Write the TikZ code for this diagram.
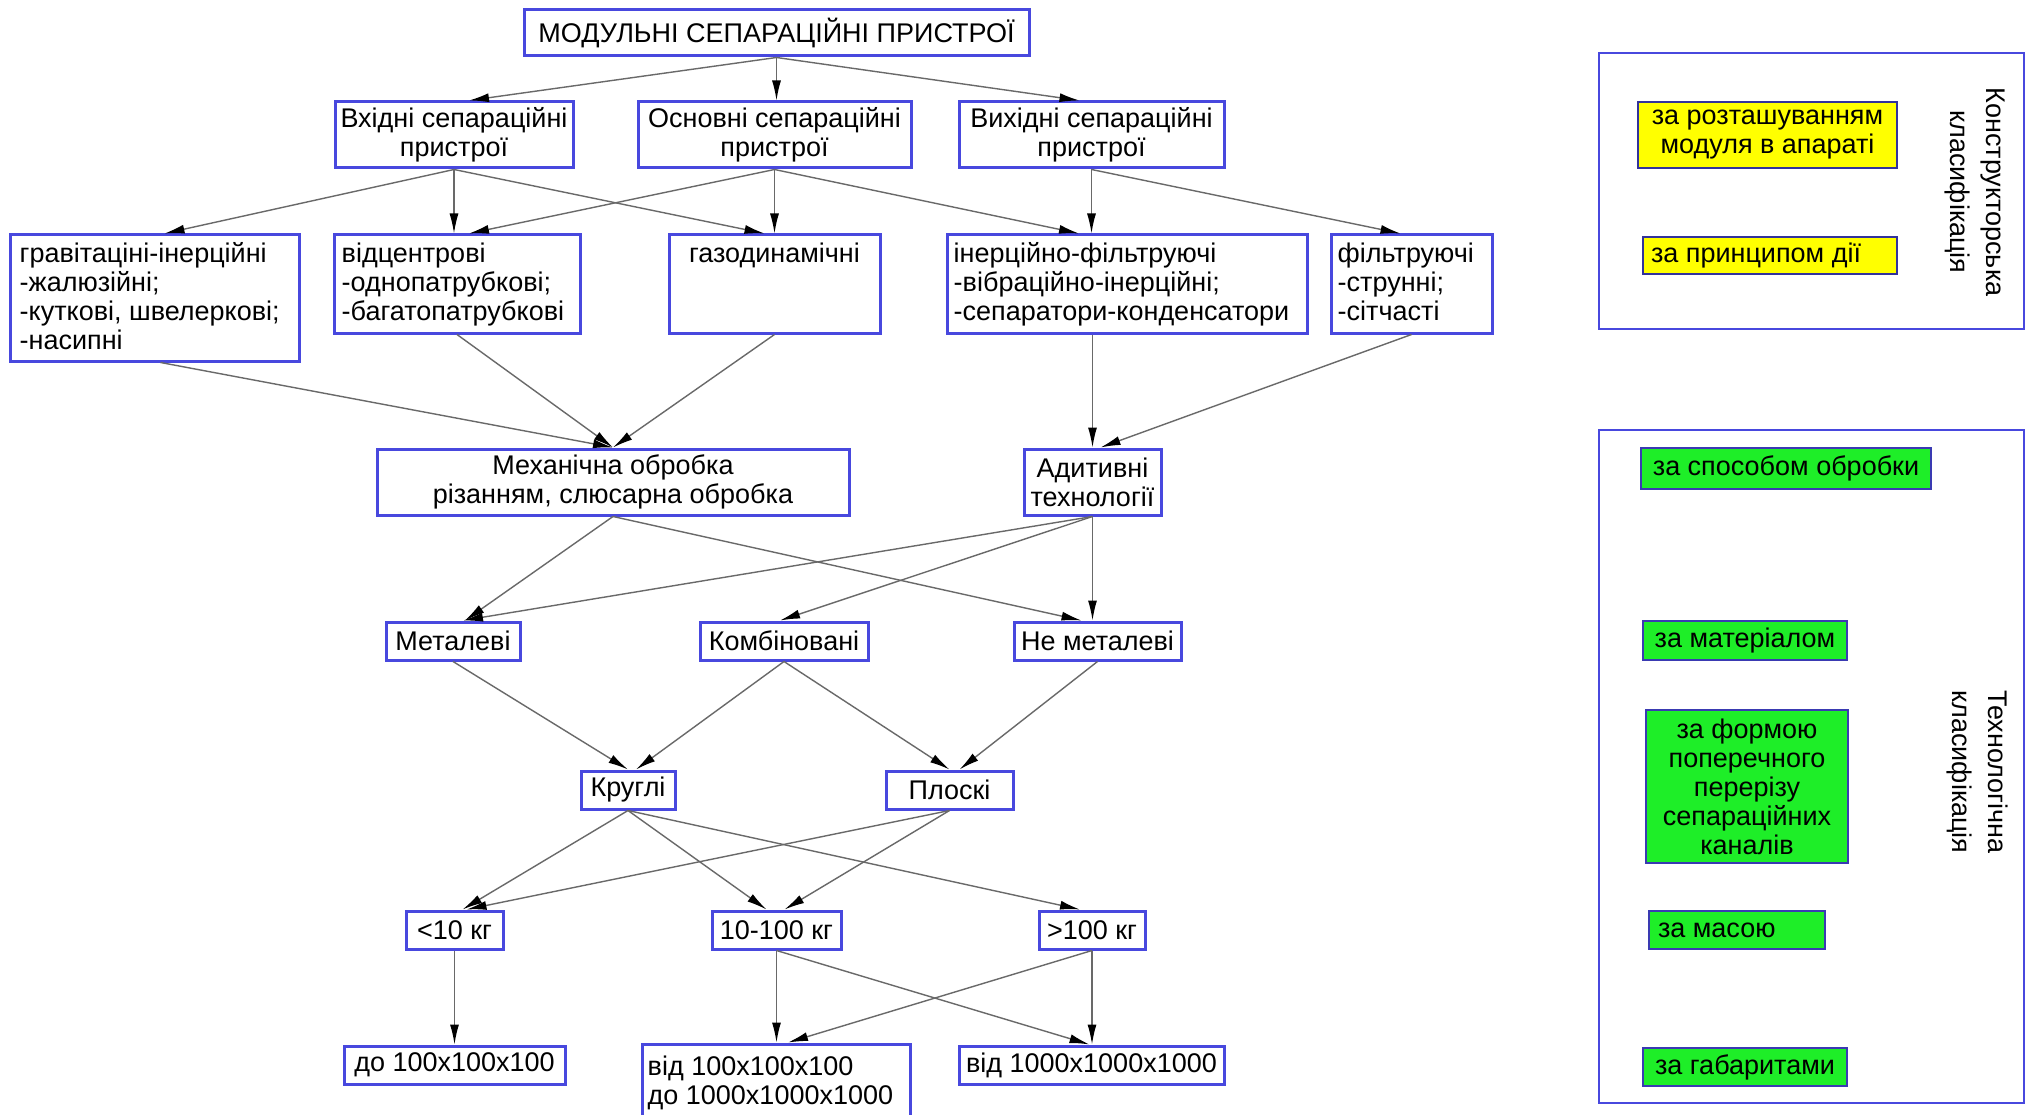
\documentclass[tikz,border=0pt]{standalone}
\usepackage{fontspec}
\setmainfont{Liberation Sans}
\usetikzlibrary{arrows.meta}
\definecolor{bbl}{RGB}{72,72,222}
\definecolor{ln}{RGB}{105,105,105}
\definecolor{ylw}{RGB}{255,255,0}
\definecolor{grn}{RGB}{30,238,40}
\newcommand\fnt{\fontsize{27}{29}\selectfont}
\newcommand\fntr{\fontsize{27}{36}\selectfont}
\newcommand\fst{\rule{0pt}{20pt}}
\tikzset{
  box/.style={draw=bbl, line width=3pt, fill=white, inner sep=0pt, font=\fnt, align=center},
  txt/.style={inner sep=0pt, font=\fnt, align=left},
  arr/.style={draw=ln, line width=1.4pt, -{Latex[length=20pt,width=9pt,color=black]}},
  panel/.style={draw=bbl, line width=2.4pt, inner sep=0pt},
  ybox/.style={box, fill=ylw, draw=bbl!70!black, line width=2.4pt},
  gbox/.style={box, fill=grn, draw=bbl!80!black, line width=2.4pt},
}
\begin{document}
\begin{tikzpicture}[x=1pt,y=-1pt]
\useasboundingbox (0,0) rectangle (2029,1115);
\clip (0,0) rectangle (2029,1115);
\fill[white] (0,0) rectangle (2029,1115);

% level 1
\node[box, minimum width=505pt, minimum height=46pt] (top) at (776.5,33) {МОДУЛЬНІ СЕПАРАЦІЙНІ ПРИСТРОЇ};
% level 2
\node[box, minimum width=238pt, minimum height=66pt] (vhid) at (454,135) {Вхідні сепараційні\\пристрої};
\node[box, minimum width=273pt, minimum height=66pt] (osn) at (774.5,135) {Основні сепараційні\\пристрої};
\node[box, minimum width=265pt, minimum height=66pt] (vyh) at (1091.5,135) {Вихідні сепараційні\\пристрої};
% level 3
\node[box, minimum width=289pt, minimum height=126pt] (grav) at (154.5,298) {};
\node[box, minimum width=246pt, minimum height=98pt] (vidc) at (457,284) {};
\node[box, minimum width=211pt, minimum height=98pt] (gaz) at (774.5,284) {};
\node[box, minimum width=360pt, minimum height=98pt] (iner) at (1127,284) {};
\node[box, minimum width=161pt, minimum height=98pt] (filt) at (1411.5,284) {};
\node[txt, anchor=north west] (gravt) at ([xshift=11pt,yshift=-9pt]grav.north west) {\fst гравітаціні-інерційні\\-жалюзійні;\\-куткові, швелеркові;\\-насипні};
\node[txt, anchor=north west] (vidct) at ([xshift=9pt,yshift=-9pt]vidc.north west) {\fst відцентрові\\-однопатрубкові;\\-багатопатрубкові};
\node[txt, anchor=north] (gazt) at ([yshift=-9pt]gaz.north) {\fst газодинамічні};
\node[txt, anchor=north west] (inert) at ([xshift=8pt,yshift=-9pt]iner.north west) {\fst інерційно-фільтруючі\\-вібраційно-інерційні;\\-сепаратори-конденсатори};
\node[txt, anchor=north west] (filtt) at ([xshift=8pt,yshift=-9pt]filt.north west) {\fst фільтруючі\\-струнні;\\-сітчасті};
% level 4
\node[box, minimum width=472pt, minimum height=66pt] (mech) at (613,482) {Механічна обробка\\різанням, слюсарна обробка};
\node[box, minimum width=137pt, minimum height=66pt] (adit) at (1092.5,482) {Адитивні\\технології};
% level 5
\node[box, minimum width=134pt, minimum height=38pt] (met) at (453,641) {Металеві};
\node[box, minimum width=168pt, minimum height=38pt] (komb) at (784,641) {Комбіновані};
\node[box, minimum width=167pt, minimum height=38pt] (nemet) at (1097.5,641) {Не металеві};
% level 6
\node[box, minimum width=94pt, minimum height=38pt] (krug) at (628,790) {Круглі};
\node[box, minimum width=127pt, minimum height=38pt] (plos) at (949.5,790) {Плоскі};
% level 7
\node[box, minimum width=97pt, minimum height=38pt] (lt10) at (454.5,930) {<10 кг};
\node[box, minimum width=129pt, minimum height=38pt] (m10) at (776.5,930) {10-100 кг};
\node[box, minimum width=106pt, minimum height=38pt] (gt100) at (1092,930) {>100 кг};
% level 8
\node[box, minimum width=221pt, minimum height=38pt] (do100) at (454.5,1065) {до 100x100x100};
\node[box, minimum width=268pt, minimum height=96pt] (vid100) at (776,1092) {};
\node[txt, anchor=north west] (vid100t) at ([xshift=7pt,yshift=-13pt]vid100.north west) {\fst від 100x100x100\\до 1000x1000x1000};
\node[box, minimum width=265pt, minimum height=38pt] (vid1000) at (1091.5,1065) {від 1000x1000x1000};

% connectors
\draw[arr] (top.south) -- ([xshift=15pt]vhid.north);
\draw[arr] (top.south) -- (top.south |- osn.north);
\draw[arr] (top.south) -- ([xshift=-12pt]vyh.north);
\draw[arr] (vhid.south) -- ([xshift=10pt]grav.north);
\draw[arr] (vhid.south) -- (vhid.south |- vidc.north);
\draw[arr] (vhid.south) -- ([xshift=-10pt]gaz.north);
\draw[arr] (osn.south) -- ([xshift=12pt]vidc.north);
\draw[arr] (osn.south) -- (osn.south |- gaz.north);
\draw[arr] (osn.south) -- ([xshift=-48pt]iner.north);
\draw[arr] (vyh.south) -- (vyh.south |- iner.north);
\draw[arr] (vyh.south) -- ([xshift=-11pt]filt.north);
\draw[arr] ([xshift=6pt]grav.south) -- (mech.north);
\draw[arr] (vidc.south) -- (mech.north);
\draw[arr] (gaz.south) -- (mech.north);
\draw[arr] (adit.north |- iner.south) -- (adit.north);
\draw[arr] (filt.south) -- ([xshift=8pt]adit.north);
\draw[arr] (mech.south) -- ([xshift=12pt]met.north);
\draw[arr] (mech.south) -- ([xshift=-16pt]nemet.north);
\draw[arr] (adit.south) -- ([xshift=10pt]met.north);
\draw[arr] (adit.south) -- ([xshift=-4pt]komb.north);
\draw[arr] (adit.south) -- (adit.south |- nemet.north);
\draw[arr] (met.south) -- (krug.north);
\draw[arr] (komb.south) -- ([xshift=8pt]krug.north);
\draw[arr] (komb.south) -- (plos.north);
\draw[arr] (nemet.south) -- ([xshift=10pt]plos.north);
\draw[arr] (krug.south) -- ([xshift=8pt]lt10.north);
\draw[arr] (krug.south) -- ([xshift=-10pt]m10.north);
\draw[arr] (krug.south) -- ([xshift=-12pt]gt100.north);
\draw[arr] (plos.south) -- ([xshift=12pt]lt10.north);
\draw[arr] (plos.south) -- ([xshift=8pt]m10.north);
\draw[arr] (lt10.south) -- (lt10.south |- do100.north);
\draw[arr] (m10.south) -- (m10.south |- vid100.north);
\draw[arr] (m10.south) -- ([xshift=-2pt]vid1000.north);
\draw[arr] (gt100.south) -- ([xshift=12pt]vid100.north);
\draw[arr] (gt100.south) -- (gt100.south |- vid1000.north);

% right panels
\node[panel, minimum width=425pt, minimum height=276pt] (kpanel) at (1811.5,191) {};
\node[ybox, minimum width=259pt, minimum height=66pt] (y1) at (1767.5,135) {за розташуванням\\модуля в апараті};
\node[ybox, minimum width=254pt, minimum height=37pt] (y2) at (1770,255.5) {};
\node[txt, anchor=west] (y2t) at ([xshift=9pt]y2.west) {за принципом дії};
\node[txt, align=center, font=\fntr, rotate=-90] (ktitle) at (1975,192) {Конструкторська\\класифікація};

\node[panel, minimum width=425pt, minimum height=673pt] (tpanel) at (1811.5,766.5) {};
\node[gbox, minimum width=290pt, minimum height=41pt] (g1) at (1786,468.5) {за способом обробки};
\node[gbox, minimum width=204pt, minimum height=39pt] (g2) at (1745,640.5) {за матеріалом};
\node[gbox, minimum width=202pt, minimum height=153pt] (g3) at (1747,786.5) {за формою\\поперечного\\перерізу\\сепараційних\\каналів};
\node[gbox, minimum width=176pt, minimum height=38pt] (g4) at (1737,930) {};
\node[txt, anchor=west] (g4t) at ([xshift=10pt]g4.west) {за масою};
\node[gbox, minimum width=204pt, minimum height=38pt] (g5) at (1745,1067) {за габаритами};
\node[txt, align=center, font=\fntr, rotate=-90] (ttitle) at (1977,772) {Технологічна\\класифікація};
\end{tikzpicture}
\end{document}
